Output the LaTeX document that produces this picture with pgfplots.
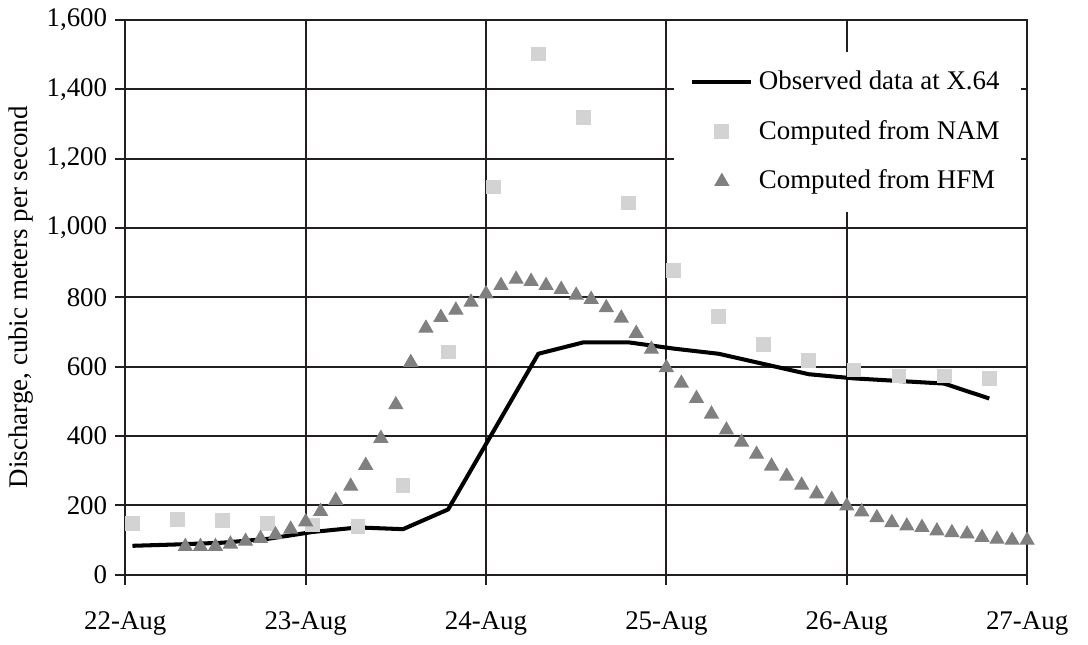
\documentclass[border=0pt]{standalone}
\usepackage{fontspec}
\setmainfont{Liberation Serif}
\usepackage{pgfplots}
\pgfplotsset{compat=1.18}
\definecolor{gridc}{RGB}{35,31,32}
\definecolor{namc}{RGB}{211,211,211}
\definecolor{hfmc}{RGB}{128,128,128}

\pgfplotsset{
  linelegend/.style={legend image code/.code={\draw[##1] (0pt,0pt) -- (22pt,0pt);}},
  marklegend/.style={legend image code/.code={\draw[mark repeat=2,mark phase=2,##1] plot coordinates {(0pt,0pt) (11pt,0pt) (22pt,0pt)};}},
}

\pgfplotstableread{
x y
0.04 83
0.29 87
0.54 92
0.79 103
1.04 123
1.29 136
1.54 131
1.79 188
2.29 637
2.54 670
2.79 670
3.04 652
3.29 637
3.79 578
4.04 566
4.54 551
4.79 508
}\observed

\pgfplotstableread{
x y
0.04 148
0.29 160
0.54 155
0.79 148
1.04 143
1.29 138
1.54 257
1.79 642
2.04 1118
2.29 1502
2.54 1318
2.79 1072
3.04 877
3.29 745
3.54 664
3.79 618
4.04 590
4.29 573
4.54 573
4.79 566
}\nam

\pgfplotstableread{
x y
0.333 81
0.417 81
0.500 81
0.583 88
0.667 96
0.750 104
0.833 115
0.917 131
1.000 152
1.083 182
1.167 214
1.250 255
1.333 315
1.417 393
1.500 490
1.583 612
1.667 711
1.750 742
1.833 763
1.917 786
2.000 810
2.083 834
2.167 852
2.250 846
2.333 834
2.417 823
2.500 806
2.583 794
2.667 770
2.750 740
2.833 696
2.917 650
3.000 597
3.083 552
3.167 508
3.250 463
3.333 417
3.417 382
3.500 347
3.583 313
3.667 284
3.750 258
3.833 233
3.917 217
4.000 198
4.083 181
4.167 164
4.250 150
4.333 140
4.417 136
4.500 126
4.583 121
4.667 117
4.750 107
4.833 102
4.917 99
5.000 99
}\hfm

\begin{document}
\begin{tikzpicture}
\begin{axis}[
  scale only axis,
  width=335pt, height=206pt,
  xmin=0, xmax=5, ymin=0, ymax=1600,
  xtick={0,1,2,3,4,5},
  xticklabels={22-Aug,23-Aug,24-Aug,25-Aug,26-Aug,27-Aug},
  ytick={0,200,...,1600},
  /pgf/number format/1000 sep={,},
  /pgf/number format/assume math mode=true,
  tick align=outside,
  xtick pos=left, ytick pos=left,
  major tick length=3.7pt,
  tick style={gridc, line width=0.75pt},
  axis line style={gridc, line width=0.75pt},
  grid=major,
  major grid style={gridc, line width=0.75pt},
  xticklabel style={yshift=-6.5pt},
  yticklabel style={xshift=0.5pt},
  ylabel={Discharge, cubic meters per second},
  ylabel style={yshift=-2pt},
  legend style={at={(0.994,0.944)}, anchor=north east, draw=none, fill=white,
    inner xsep=6pt, inner ysep=5pt, row sep=6pt, font=\normalsize},
  legend cell align=left,
]
\addplot[black, line width=1.5pt, linelegend] table[x=x, y=y] {\observed};
\addlegendentry{Observed data at X.64}
\addplot[only marks, mark=square*, mark size=2.55pt, draw=namc, fill=namc, marklegend]
  table[x=x, y=y] {\nam};
\addlegendentry{Computed from NAM}
\addplot[only marks, mark=triangle*, mark size=2.9pt, draw=hfmc, fill=hfmc, marklegend]
  table[x=x, y=y] {\hfm};
\addlegendentry{Computed from HFM}
\end{axis}
\path (current bounding box.east) ++(4pt,0pt);
\end{tikzpicture}
\end{document}
